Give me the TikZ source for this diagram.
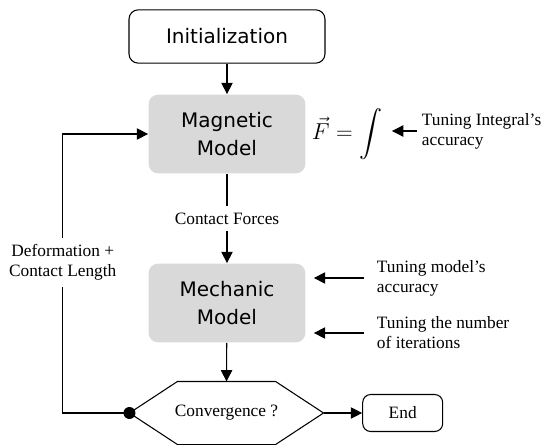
\documentclass[tikz,border=0pt]{standalone}
\usepackage{amsmath}
\usepackage{xcolor}
\usepackage{fontspec}
\setmainfont{Liberation Serif}
\newfontfamily\handfont{DejaVu Sans}
\usepackage{tikz}
\usetikzlibrary{arrows.meta}
\tikzstyle{basic arrow}=[draw, -{Triangle[length=8.5pt, width=8.5pt]}]
\tikzstyle{stage box}=[draw, rounded corners=7pt, align=center, font=\handfont\fontsize{15}{21}\selectfont]
\tikzstyle{model box}=[fill=gray!30, rounded corners=7pt, align=center, font=\handfont\fontsize{15}{21}\selectfont, minimum width=117.5pt, minimum height=59pt]
\tikzstyle{note}=[align=left, font=\fontsize{13}{15}\selectfont]

\begin{document}
\begin{tikzpicture}[x=0.75pt, y=-0.75pt, line width=0.8pt]
		\useasboundingbox (0,0) rectangle (553,445);

		\node [style=stage box, minimum width=147pt, minimum height=40pt] (init) at (227, 36.5) {Initialization};
		\node [style=model box] (mag) at (227, 134) {Magnetic\\Model};
		\node [style=model box] (mech) at (227, 303) {Mechanic\\Model};
		\node [minimum width=144.75pt, minimum height=46.5pt, style=note] (conv) at (226.5, 413) {Convergence ?};
		\node [style=stage box, font=\fontsize{13}{15}\selectfont, rounded corners=6pt, minimum width=60pt, minimum height=27.75pt] (end) at (402.7, 413) {End};

		\node [font=\fontsize{16}{20}\selectfont, inner sep=1pt] (force) at (347, 134) {$\displaystyle \vec{F} = \int$};
		\node [style=note, anchor=west] (tunint) at (417, 131) {Tuning Integral's\\accuracy};
		\node [style=note, anchor=west] (tunacc) at (372, 278) {Tuning model's\\accuracy};
		\node [style=note, anchor=west] (tuniter) at (372, 333) {Tuning the number\\of iterations};

		\coordinate (fb bottom) at (62.7, 413);
		\coordinate (fb top) at (62.7, 134);

		% hexagon round the convergence test
		\draw (conv.west) -- ([xshift=36pt]conv.north west) -- ([xshift=-36pt]conv.north east) -- (conv.east)
			-- ([xshift=-36pt]conv.south east) -- ([xshift=36pt]conv.south west) -- cycle;
		\fill (conv.west) circle (4.5pt);

		\draw [style=basic arrow] (init) to (mag);
		\draw [style=basic arrow] (mag) to node [style=note, fill=white, inner sep=5pt] {Contact Forces} (mech);
		\draw [style=basic arrow] (mech) to (conv.north);
		\draw [style=basic arrow] (conv.east) to (end);
		\draw [style=basic arrow] (conv.west) -- (fb bottom) -- node [pos=0.54, style=note, align=center, fill=white, inner sep=5pt] {Deformation +\\Contact Length} (fb top) -- (mag.west);

		\draw [style=basic arrow, shorten >=6pt] (tunint.west) to (force.east |- tunint.west);
		\draw [style=basic arrow, shorten <=6pt, shorten >=6pt] (tunacc.west) to (mech.east |- tunacc.west);
		\draw [style=basic arrow, shorten <=6pt, shorten >=6pt] (tuniter.west) to (mech.east |- tuniter.west);

\end{tikzpicture}
\end{document}
